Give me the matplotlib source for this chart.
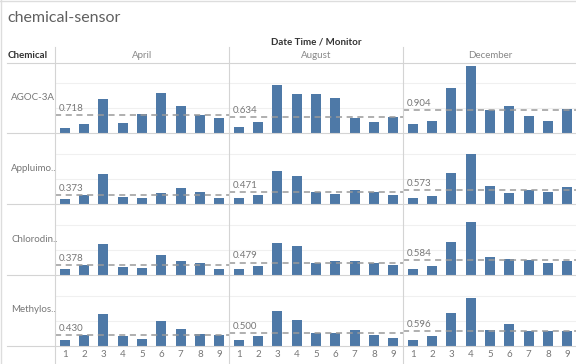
import numpy as np
import matplotlib
matplotlib.use("Agg")
import matplotlib.pyplot as plt
from matplotlib.lines import Line2D

plt.rcParams['font.family'] = ['Lato', 'DejaVu Sans']

months = ["April", "August", "December"]
chemicals = ["AGOC-3A", "Appluimo..", "Chlorodin..", "Methylos.."]
monitors = [1, 2, 3, 4, 5, 6, 7, 8, 9]

# readings per chemical, one list of 9 monitors per month
agoc = [
    [0.22, 0.37, 1.36, 0.42, 0.77, 1.60, 1.08, 0.718, 0.62],
    [0.26, 0.44, 1.93, 1.57, 1.57, 1.40, 0.61, 0.46, 0.634],
    [0.37, 0.48, 1.81, 2.69, 0.904, 1.10, 0.68, 0.48, 0.96],
]
appluimonia = [
    [0.21, 0.373, 1.21, 0.28, 0.25, 0.43, 0.63, 0.48, 0.24],
    [0.23, 0.37, 1.31, 1.11, 0.471, 0.40, 0.55, 0.48, 0.37],
    [0.23, 0.33, 1.24, 1.99, 0.71, 0.43, 0.573, 0.48, 0.67],
]
chlorodinine = [
    [0.24, 0.378, 1.24, 0.29, 0.27, 0.79, 0.56, 0.45, 0.24],
    [0.24, 0.36, 1.27, 1.16, 0.479, 0.56, 0.56, 0.47, 0.37],
    [0.21, 0.33, 1.29, 2.12, 0.71, 0.61, 0.584, 0.48, 0.55],
]
methylosmolene = [
    [0.23, 0.43, 1.25, 0.40, 0.26, 0.99, 0.67, 0.47, 0.42],
    [0.23, 0.39, 1.39, 1.01, 0.51, 0.50, 0.61, 0.44, 0.32],
    [0.21, 0.37, 1.29, 1.90, 0.61, 0.87, 0.596, 0.57, 0.59],
]
values = [agoc, appluimonia, chlorodinine, methylosmolene]

W, H = 576, 364
fig = plt.figure(figsize=(W / 100, H / 100), dpi=100)

def fx(x):
    return x / W

def fy(y):
    return 1 - y / H

def hline(x0, x1, y, color="#d4d4d4", lw=0.8):
    fig.add_artist(Line2D([fx(x0), fx(x1)], [fy(y), fy(y)], color=color, lw=lw))

def vline(x, y0, y1, color="#d4d4d4", lw=0.8):
    fig.add_artist(Line2D([fx(x), fx(x)], [fy(y0), fy(y1)], color=color, lw=lw))

col_left = [55, 229, 403]
col_w = 174
baselines = [133, 204, 274.5, 345.5]
row_h = 71
px_per_unit = 25.0

bar_color = "#4e79a7"
small = 7

fig.text(fx(7), fy(18), "chemical-sensor", fontsize=11.5, color="#606060",
         va="center", ha="left")
fig.text(fx(316), fy(42), "Date Time / Monitor", fontsize=small, color="#333333",
         fontweight="bold", ha="center", va="center")
fig.text(fx(8), fy(56), "Chemical", fontsize=small, color="#333333",
         fontweight="bold", ha="left", va="center")
for j, m in enumerate(months):
    fig.text(fx(col_left[j] + col_w / 2), fy(56), m, fontsize=small, color="#888888",
             ha="center", va="center")

hline(7, W, 62.5)
for b in baselines:
    hline(7, W, b)
for x in col_left:
    vline(x, 47, H)

for i, chem in enumerate(chemicals):
    b = baselines[i]
    fig.text(fx(11), fy(b - row_h / 2), chem, fontsize=small, color="#777777",
             ha="left", va="center")
    for j in range(3):
        ax = fig.add_axes([fx(col_left[j]), fy(b), col_w / W, row_h / H])
        ax.set_xlim(0.5, 9.5)
        ax.set_ylim(0, row_h / px_per_unit)
        ax.patch.set_alpha(0)
        for s in ax.spines.values():
            s.set_visible(False)
        for g in [1, 2]:
            ax.axhline(g, color="#f0f0f0", lw=0.8, zorder=0)
        v = values[i][j]
        ax.bar(monitors, v, width=0.52, color=bar_color, zorder=2)
        med = np.median(v)
        ax.axhline(med, color="#9a9a9a", lw=1.1, ls=(0, (4, 3)), zorder=3)
        ax.annotate(f"{med:.3f}", xy=(0.02, med), xycoords=("axes fraction", "data"),
                    xytext=(0, 1.5), textcoords="offset points",
                    fontsize=small, color="#777777", ha="left", va="bottom")
        ax.set_yticks([])
        if i == len(chemicals) - 1:
            ax.set_xticks(monitors)
            ax.set_xticklabels([str(m) for m in monitors], fontsize=small, color="#777777")
            ax.tick_params(axis="x", length=0, pad=3.5)
        else:
            ax.set_xticks([])

# light frame around the sheet
hline(0, W, 0.5, color="#dddddd", lw=1.0)
vline(0.5, 0, H, color="#dddddd", lw=1.0)

fig.savefig("out.png", dpi=100)
